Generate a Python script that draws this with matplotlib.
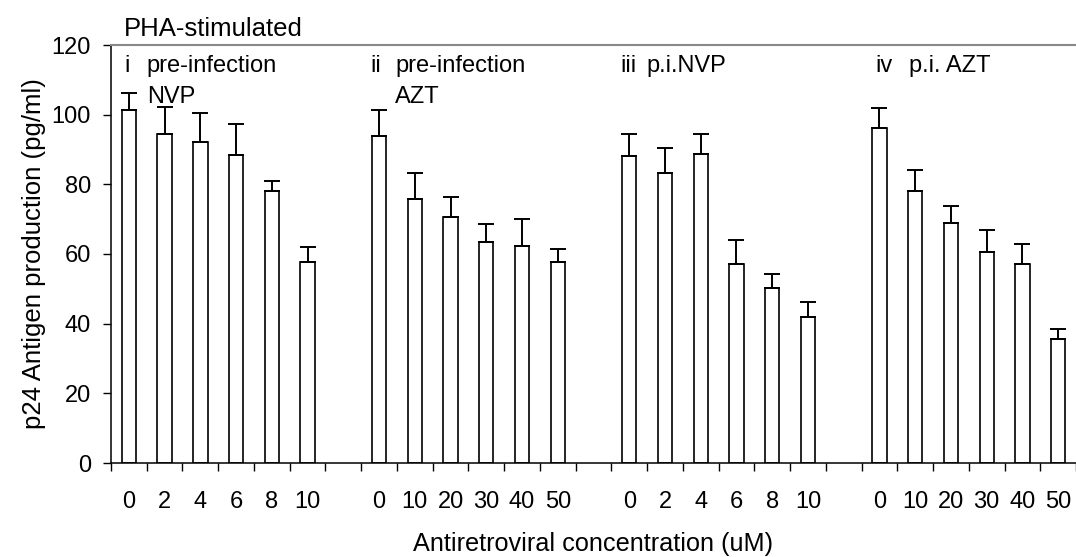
import numpy as np
import matplotlib.pyplot as plt

plt.rcParams['font.family'] = ['Liberation Sans', 'DejaVu Sans']

# data
group_ids = ["i", "ii", "iii", "iv"]
group_names = [["pre-infection", "NVP"], ["pre-infection", "AZT"], ["p.i.NVP"], ["p.i. AZT"]]
conc_labels = [
    ["0", "2", "4", "6", "8", "10"],
    ["0", "10", "20", "30", "40", "50"],
    ["0", "2", "4", "6", "8", "10"],
    ["0", "10", "20", "30", "40", "50"],
]
means = [
    [101.3, 94.4, 92.2, 88.3, 78.1, 57.8],
    [94.0, 75.8, 70.7, 63.4, 62.2, 57.6],
    [88.2, 83.2, 88.8, 57.0, 50.3, 41.8],
    [96.2, 78.1, 69.0, 60.5, 57.1, 35.6],
]
err_up = [
    [5.0, 7.9, 8.4, 9.0, 2.8, 4.3],
    [7.3, 7.4, 5.7, 5.1, 7.9, 3.9],
    [6.3, 7.3, 5.7, 6.9, 4.0, 4.5],
    [5.6, 6.1, 4.7, 6.3, 5.8, 3.0],
]

# layout of the group captions (x offsets from group start)
id_dx = [-0.12, -0.23, -0.26, -0.1]
name_dx = [0.5, 0.45, 0.49, 0.82]

fig = plt.figure(figsize=(10.76, 5.57), dpi=100)
ax = fig.add_axes([111 / 1076, 94 / 557, 965 / 1076, 418 / 557])

gap = 1
pos, vals, errs, labels = [], [], [], []
for g in range(len(means)):
    start = g * (len(means[g]) + gap)
    for k in range(len(means[g])):
        pos.append(start + k)
        vals.append(means[g][k])
        errs.append(err_up[g][k])
        labels.append(conc_labels[g][k])
pos = np.array(pos)

ax.bar(pos, vals, width=0.4, color="white", edgecolor="black", linewidth=1.2, zorder=2)
ax.errorbar(pos, vals, yerr=[np.zeros(len(errs)), errs], fmt="none",
            ecolor="black", elinewidth=1.4, capsize=5.5, capthick=1.4, zorder=3)

ax.set_xlim(-0.5, pos[-1] + 0.5)
ax.set_ylim(0, 120)
ax.set_yticks(np.arange(0, 121, 20))
ax.set_xticks(pos)
ax.set_xticklabels(labels)
ax.set_xticks(np.arange(-0.5, pos[-1] + 0.6, 1), minor=True)
ax.tick_params(axis="x", which="major", length=0, pad=20, labelsize=17)
ax.tick_params(axis="x", which="minor", length=5.5, width=1, direction="out")
ax.tick_params(axis="y", length=5.5, width=1, pad=9, labelsize=17)

for s in ["left", "bottom"]:
    ax.spines[s].set_linewidth(1.1)
ax.spines["right"].set_visible(False)
ax.spines["top"].set_color("#888888")
ax.spines["top"].set_linewidth(1.5)

ax.set_ylabel("p24 Antigen production (pg/ml)", fontsize=18.5, labelpad=4)
ax.set_xlabel("Antiretroviral concentration (uM)", fontsize=18.2, labelpad=14)

for g in range(len(group_ids)):
    start = g * (len(means[g]) + gap)
    ax.text(start + id_dx[g], 112.3, group_ids[g], fontsize=17, va="baseline")
    for j, line in enumerate(group_names[g]):
        ax.text(start + name_dx[g], 112.3 - 8.9 * j, line, fontsize=17, va="baseline")

ax.text(-0.14, 122.6, "PHA-stimulated", fontsize=18.5, va="baseline", clip_on=False)

fig.savefig("out.png", dpi=100)
